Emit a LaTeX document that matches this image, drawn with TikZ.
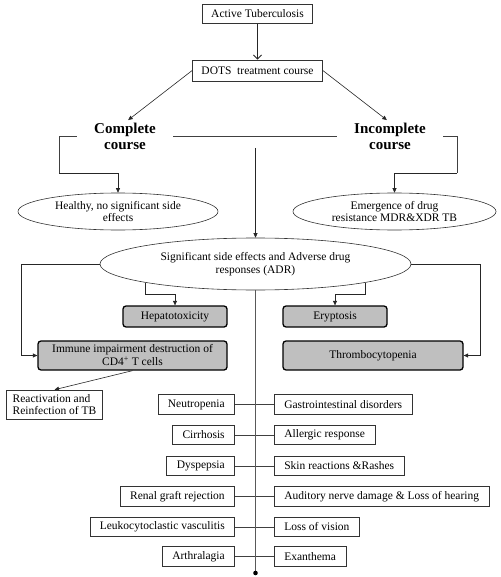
\documentclass[tikz,border=0pt]{standalone}
\usepackage{fontspec}
\setmainfont{Liberation Serif}
\usetikzlibrary{shapes.geometric, arrows.meta, positioning, calc}
\tikzset{
    >={Triangle[length=4.5pt,width=4pt]},
    % Boxes
    plain/.style={rectangle, draw=black!80, line width=0.6pt, fill=white, inner xsep=9pt, inner ysep=2pt,
                  minimum height=19pt, align=center, font=\fontsize{11.5}{12.5}\selectfont},
    item/.style={plain, inner xsep=10pt, minimum height=19.5pt},
    effect/.style={rectangle, draw=black, line width=1.3pt, fill=gray!50, rounded corners=3pt,
                   align=center, font=\fontsize{11.5}{13}\selectfont},
    oval/.style={ellipse, draw=black!80, line width=0.6pt, align=center, inner sep=0pt,
                 font=\fontsize{11.5}{12.5}\selectfont},
    outcome/.style={font=\fontsize{15}{16}\selectfont\bfseries, align=center, inner xsep=17pt, inner ysep=0pt},
    % Lines
    flow/.style={->, line width=0.6pt, black!85},
    link/.style={line width=0.6pt, black!75},
    spine/.style={line width=0.8pt, gray!70!black}
}

\begin{document}
\begin{tikzpicture}[x=1pt, y=-1pt]
\useasboundingbox (0,0) rectangle (500,577);

% Treatment
\node[plain] (tb) at (257.5,14) {Active Tuberculosis};
\node[plain, minimum height=21pt] (dots) at (257.5,70.5) {DOTS~~treatment course};
\node[outcome] (cc) at (125,136) {Complete\\course};
\node[outcome] (ic) at (390,136) {Incomplete\\course};

% Outcomes
\node[oval, minimum width=200pt, minimum height=37pt] (healthy) at (118,211.5) {Healthy, no significant side\\effects};
\node[oval, minimum width=203pt, minimum height=37pt] (emerg) at (394.5,211.5) {Emergence of drug\\resistance MDR\&XDR TB};
\node[oval, minimum width=311pt, minimum height=52pt] (adr) at (255.5,264) {Significant side effects and Adverse drug\\responses (ADR)};

% Main adverse effects
\node[effect, minimum width=104pt, minimum height=21pt] (hep) at (175,316.5) {Hepatotoxicity};
\node[effect, minimum width=104pt, minimum height=21pt] (ery) at (335,316.5) {Eryptosis};
\node[effect, minimum width=189pt, minimum height=29pt, inner ysep=1pt] (imm) at (132.5,355.5) {Immune impairment destruction of\\CD4\textsuperscript{+} T cells};
\node[effect, minimum width=180pt, minimum height=29pt] (thr) at (373,355.5) {Thrombocytopenia};
\node[plain, align=left, inner xsep=6pt, minimum height=29pt] (react) at (54.5,404.5) {Reactivation and\\Reinfection of TB};

% Other reactions
\node[item, anchor=east] (neut) at (235,404.5) {Neutropenia};
\node[item, anchor=west] (gast) at (274,404.5) {Gastrointestinal disorders};
\node[item, anchor=east] (cirr) at (235,435) {Cirrhosis};
\node[item, anchor=west] (allg) at (274,435) {Allergic response};
\node[item, anchor=east] (dysp) at (235,466) {Dyspepsia};
\node[item, anchor=west] (skin) at (274,466) {Skin reactions \&Rashes};
\node[item, anchor=east] (renal) at (235,496.5) {Renal graft rejection};
\node[item, anchor=west] (audi) at (274,496.5) {Auditory nerve damage \& Loss of hearing};
\node[item, anchor=east] (leuko) at (235,527) {Leukocytoclastic vasculitis};
\node[item, anchor=west] (visn) at (274,527) {Loss of vision};
\node[item, anchor=east] (arth) at (235,556.5) {Arthralagia};
\node[item, anchor=west] (exan) at (274,556.5) {Exanthema};

\coordinate (lb) at (59,173);
\coordinate (rb) at (457,173);
\coordinate (top) at (255.5,148);
\coordinate (bottom) at (255.5,573);

\draw[flow, line width=1pt, -{Straight Barb[length=4pt,width=8pt]}] (tb) -- (dots);
\draw[flow, shorten >=4pt] (dots.west) -- (cc.north);
\draw[flow, shorten >=4pt] (dots.east) -- (ic.north);

\draw[link] (cc.west) -| (lb);
\draw[flow] (lb) -| (healthy.north);
\draw[link] (ic.east) -| (rb);
\draw[flow] (rb) -| (emerg.north);
\draw[link] (cc.east) -- (ic.west);
\draw[flow] (top) -- (adr.north);

\draw[flow] (adr.south west) -- ++(0,12) -| (hep.north);
\draw[flow] (adr.south east) -- ++(0,12) -| (ery.north);
\draw[flow] (adr.west) -| ([xshift=-16pt]imm.west) -- (imm.west);
\draw[flow] (adr.east) -| ([xshift=17pt]thr.east) -- (thr.east);
\draw[flow] (imm.south) -- (react.north);

\draw[link] (neut.east) -- (gast.west);
\draw[link] (cirr.east) -- (allg.west);
\draw[link] (dysp.east) -- (skin.west);
\draw[link] (renal.east) -- (audi.west);
\draw[link] (leuko.east) -- (visn.west);
\draw[link] (arth.east) -- (exan.west);

\draw[spine] (adr.south) -- (bottom);
\fill (bottom) circle (2.3pt);

\end{tikzpicture}
\end{document}
